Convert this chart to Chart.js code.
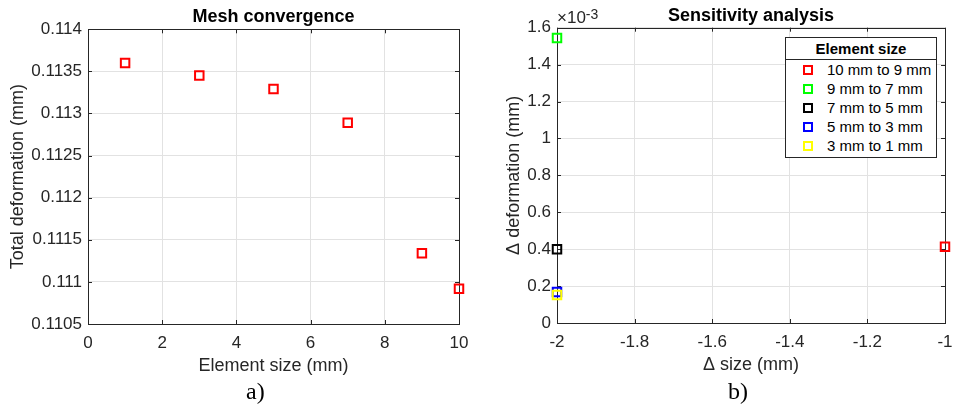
<!DOCTYPE html>
<html><head><meta charset="utf-8">
<script src="https://cdn.jsdelivr.net/npm/chart.js@4/dist/chart.umd.min.js"></script>
<style>
html,body{margin:0;padding:0;background:#fff;}
#wrap{position:relative;width:953px;height:407px;overflow:hidden;font-family:"Liberation Sans",Arial,sans-serif;}
#c1{position:absolute;left:0;top:0;}
#c2{position:absolute;left:480px;top:0;}
.cap{position:absolute;font-family:"Liberation Serif","Times New Roman",serif;font-size:24px;line-height:24px;color:#000;}
#expo{position:absolute;left:557px;top:9px;font-size:17px;line-height:17px;color:#262626;}
#expo sup{font-size:14px;position:relative;top:-3px;vertical-align:top;}
#legend{position:absolute;left:785px;top:37px;width:152px;height:121px;border:1px solid #262626;background:#fff;box-sizing:border-box;color:#000;}
#legend .lt{height:21px;line-height:21px;text-align:center;font-weight:bold;font-size:15px;border-bottom:1px solid #262626;}
#legend .row{position:relative;height:19px;line-height:19px;font-size:15px;}
#legend .mk{position:absolute;left:17px;top:5px;width:6px;height:6px;border:2px solid;}
#legend .tx{position:absolute;left:41px;top:0;white-space:nowrap;}
</style>
</head><body>
<div id="wrap">
<canvas id="c1" width="480" height="407"></canvas>
<canvas id="c2" width="473" height="407"></canvas>
<div id="expo">&times;10<sup>-3</sup></div>
<div id="legend"></div>
<div class="cap" style="left:246px;top:379px;">a)</div>
<div class="cap" style="left:728px;top:379px;">b)</div>
</div>
<script>
// ---- data: Mesh convergence ----
const elementSize = [1, 3, 5, 7, 9, 10];
const totalDeformation = [0.1136, 0.11345, 0.11329, 0.11289, 0.11134, 0.11092];
const meshXTicks = [0, 2, 4, 6, 8, 10];
const meshYTicks = [0.1105, 0.111, 0.1115, 0.112, 0.1125, 0.113, 0.1135, 0.114];

// ---- data: Sensitivity analysis (deformation in units of 1e-3 mm) ----
const sensLabels = ['10 mm to 9 mm', '9 mm to 7 mm', '7 mm to 5 mm', '5 mm to 3 mm', '3 mm to 1 mm'];
const sensColors = ['#ff0000', '#00ff00', '#000000', '#0000ff', '#ffff00'];
const deltaSize = [-1, -2, -2, -2, -2];
const deltaDeformation = [0.413, 1.544, 0.4, 0.168, 0.152];
const sensXTicks = [-2, -1.8, -1.6, -1.4, -1.2, -1];
const sensYTicks = [0, 0.2, 0.4, 0.6, 0.8, 1, 1.2, 1.4, 1.6];

const FONT = '"Liberation Sans", Arial, sans-serif';
const AXC = '#262626';
const GRID = '#e2e2e2';

const boxPlugin = {
  id: 'matlabBox',
  beforeDatasetsDraw(chart) {
    const {ctx, chartArea: a, scales} = chart;
    ctx.save();
    ctx.strokeStyle = AXC;
    ctx.lineWidth = 1;
    const tl = 4;
    ctx.beginPath();
    scales.x.ticks.forEach(t => {
      const px = Math.round(scales.x.getPixelForValue(t.value)) + 0.5;
      ctx.moveTo(px, a.bottom); ctx.lineTo(px, a.bottom - tl);
      ctx.moveTo(px, a.top); ctx.lineTo(px, a.top + tl);
    });
    scales.y.ticks.forEach(t => {
      const py = Math.round(scales.y.getPixelForValue(t.value)) + 0.5;
      ctx.moveTo(a.left, py); ctx.lineTo(a.left + tl, py);
      ctx.moveTo(a.right, py); ctx.lineTo(a.right - tl, py);
    });
    ctx.stroke();
    ctx.strokeRect(Math.round(a.left) + 0.5, Math.round(a.top) + 0.5,
      Math.round(a.right - a.left), Math.round(a.bottom - a.top));
    ctx.restore();
  }
};

function axis(ticksArr, min, max, titleText, fitSize, isX, titlePad, tickPad) {
  return {
    type: 'linear', min, max,
    afterBuildTicks: s => { s.ticks = ticksArr.map(v => ({value: v})); },
    afterFit: s => {
      if (isX) { s.height = fitSize; s.paddingLeft = 0; s.paddingRight = 0; }
      else { s.width = fitSize; s.paddingTop = 0; s.paddingBottom = 0; }
    },
    grid: {color: GRID, drawTicks: false, lineWidth: 1},
    border: {display: false},
    ticks: {color: AXC, font: {family: FONT, size: 17}, padding: tickPad,
            callback: v => String(v), maxRotation: 0, autoSkip: false},
    title: {display: true, text: titleText, color: AXC, font: {family: FONT, size: 18},
            padding: titlePad}
  };
}

new Chart(document.getElementById('c1'), {
  type: 'scatter',
  data: {
    datasets: [{
      label: 'Total deformation',
      data: elementSize.map((x, i) => ({x, y: totalDeformation[i]})),
      pointStyle: 'rect', radius: 6, borderWidth: 2,
      borderColor: '#ff0000', backgroundColor: 'rgba(0,0,0,0)', clip: false
    }]
  },
  options: {
    responsive: false, animation: false,
    layout: {padding: {left: 0, right: 21, top: 0, bottom: 28}},
    plugins: {
      legend: {display: false}, tooltip: {enabled: false},
      title: {display: true, text: 'Mesh convergence', fullSize: false, color: '#000',
              font: {family: FONT, size: 18, weight: 'bold'}, padding: {top: 6, bottom: 1.7}}
    },
    scales: {
      x: axis(meshXTicks, 0, 10, 'Element size (mm)', 55, true, {top: 0, bottom: 2}, 9),
      y: axis(meshYTicks, 0.1105, 0.114, 'Total deformation (mm)', 88, false, {top: 7, bottom: 0}, 6)
    }
  },
  plugins: [boxPlugin]
});

const sensChart = new Chart(document.getElementById('c2'), {
  type: 'scatter',
  data: {
    datasets: sensLabels.map((lab, i) => ({
      label: lab,
      data: [{x: deltaSize[i], y: deltaDeformation[i]}],
      pointStyle: 'rect', radius: 6, borderWidth: 2,
      borderColor: sensColors[i], backgroundColor: 'rgba(0,0,0,0)', clip: false,
      order: sensLabels.length - i
    }))
  },
  options: {
    responsive: false, animation: false,
    layout: {padding: {left: 0, right: 8, top: 0, bottom: 29}},
    plugins: {
      legend: {display: false}, tooltip: {enabled: false},
      title: {display: true, text: 'Sensitivity analysis', fullSize: false, color: '#000',
              font: {family: FONT, size: 18, weight: 'bold'}, padding: {top: 5, bottom: 1.1}}
    },
    scales: {
      x: axis(sensXTicks, -2, -1, '\u0394 size (mm)', 55, true, {top: 0, bottom: 2}, 9),
      y: axis(sensYTicks, 0, 1.6, '\u0394 deformation (mm)', 77, false, {top: 23, bottom: 0}, 6)
    }
  },
  plugins: [boxPlugin]
});

// HTML legend built from the chart's datasets
const leg = document.getElementById('legend');
let html = '<div class="lt">Element size</div>';
sensChart.data.datasets.forEach(ds => {
  html += '<div class="row"><span class="mk" style="border-color:' + ds.borderColor + '"></span><span class="tx">' + ds.label + '</span></div>';
});
leg.innerHTML = html;
</script>
</body></html>
